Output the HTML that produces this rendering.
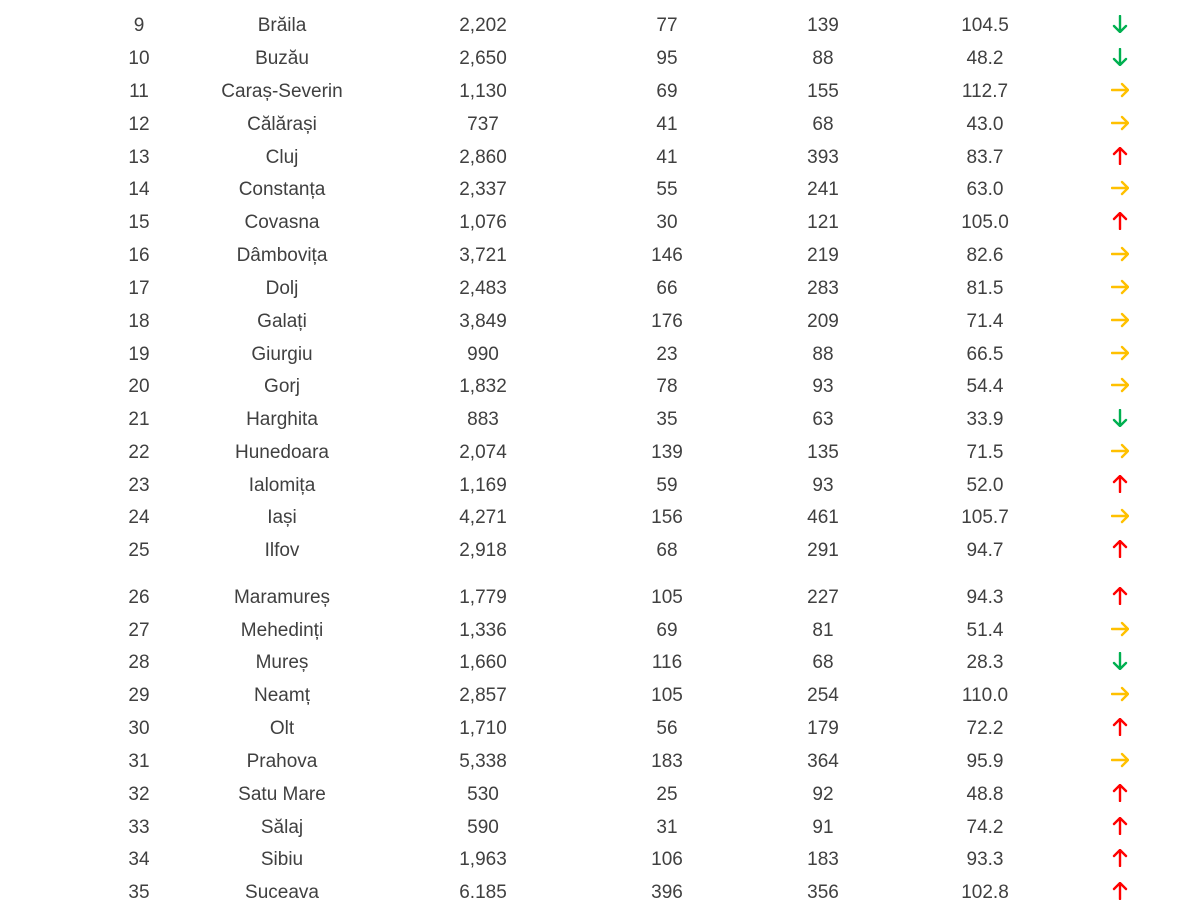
<!DOCTYPE html>
<html><head><meta charset="utf-8"><style>
body{margin:0;width:1200px;height:900px;background:#fff;overflow:hidden;position:relative;font-family:"Liberation Sans",sans-serif;color:#404040;font-size:19px}
.r{position:absolute;left:0;width:1200px;height:24px;line-height:24px}
.r span{position:absolute;width:200px;text-align:center;top:2px}
.r span:nth-child(1){left:39px}.r span:nth-child(2){left:182px}.r span:nth-child(3){left:383px}
.r span:nth-child(4){left:567px}.r span:nth-child(5){left:723px}.r span:nth-child(6){left:885px}
.r svg{position:absolute;left:1111px;top:3px}
</style></head><body>
<svg width="0" height="0" style="position:absolute"><defs>
<g id="d" fill="none" stroke="#00b050" stroke-width="2.4" stroke-linecap="round" stroke-linejoin="round"><path d="M9 1V17M3 11L9 17L15 11"/></g>
<g id="u" fill="none" stroke="#ff0000" stroke-width="2.4" stroke-linecap="round" stroke-linejoin="round"><path d="M9 17V1M3 7L9 1L15 7"/></g>
<g id="y" fill="none" stroke="#ffc000" stroke-width="2.4" stroke-linecap="round" stroke-linejoin="round"><path d="M1 9H17M11 3L17 9L11 15"/></g>
</defs></svg>
<div class="r" style="top:12px"><span>9</span><span>Brăila</span><span>2,202</span><span>77</span><span>139</span><span>104.5</span><svg width="18" height="18"><use href="#d"/></svg></div>
<div class="r" style="top:45px"><span>10</span><span>Buzău</span><span>2,650</span><span>95</span><span>88</span><span>48.2</span><svg width="18" height="18"><use href="#d"/></svg></div>
<div class="r" style="top:78px"><span>11</span><span>Caraș-Severin</span><span>1,130</span><span>69</span><span>155</span><span>112.7</span><svg width="18" height="18"><use href="#y"/></svg></div>
<div class="r" style="top:111px"><span>12</span><span>Călărași</span><span>737</span><span>41</span><span>68</span><span>43.0</span><svg width="18" height="18"><use href="#y"/></svg></div>
<div class="r" style="top:144px"><span>13</span><span>Cluj</span><span>2,860</span><span>41</span><span>393</span><span>83.7</span><svg width="18" height="18"><use href="#u"/></svg></div>
<div class="r" style="top:176px"><span>14</span><span>Constanța</span><span>2,337</span><span>55</span><span>241</span><span>63.0</span><svg width="18" height="18"><use href="#y"/></svg></div>
<div class="r" style="top:209px"><span>15</span><span>Covasna</span><span>1,076</span><span>30</span><span>121</span><span>105.0</span><svg width="18" height="18"><use href="#u"/></svg></div>
<div class="r" style="top:242px"><span>16</span><span>Dâmbovița</span><span>3,721</span><span>146</span><span>219</span><span>82.6</span><svg width="18" height="18"><use href="#y"/></svg></div>
<div class="r" style="top:275px"><span>17</span><span>Dolj</span><span>2,483</span><span>66</span><span>283</span><span>81.5</span><svg width="18" height="18"><use href="#y"/></svg></div>
<div class="r" style="top:308px"><span>18</span><span>Galați</span><span>3,849</span><span>176</span><span>209</span><span>71.4</span><svg width="18" height="18"><use href="#y"/></svg></div>
<div class="r" style="top:341px"><span>19</span><span>Giurgiu</span><span>990</span><span>23</span><span>88</span><span>66.5</span><svg width="18" height="18"><use href="#y"/></svg></div>
<div class="r" style="top:373px"><span>20</span><span>Gorj</span><span>1,832</span><span>78</span><span>93</span><span>54.4</span><svg width="18" height="18"><use href="#y"/></svg></div>
<div class="r" style="top:406px"><span>21</span><span>Harghita</span><span>883</span><span>35</span><span>63</span><span>33.9</span><svg width="18" height="18"><use href="#d"/></svg></div>
<div class="r" style="top:439px"><span>22</span><span>Hunedoara</span><span>2,074</span><span>139</span><span>135</span><span>71.5</span><svg width="18" height="18"><use href="#y"/></svg></div>
<div class="r" style="top:472px"><span>23</span><span>Ialomița</span><span>1,169</span><span>59</span><span>93</span><span>52.0</span><svg width="18" height="18"><use href="#u"/></svg></div>
<div class="r" style="top:504px"><span>24</span><span>Iași</span><span>4,271</span><span>156</span><span>461</span><span>105.7</span><svg width="18" height="18"><use href="#y"/></svg></div>
<div class="r" style="top:537px"><span>25</span><span>Ilfov</span><span>2,918</span><span>68</span><span>291</span><span>94.7</span><svg width="18" height="18"><use href="#u"/></svg></div>
<div class="r" style="top:584px"><span>26</span><span>Maramureș</span><span>1,779</span><span>105</span><span>227</span><span>94.3</span><svg width="18" height="18"><use href="#u"/></svg></div>
<div class="r" style="top:617px"><span>27</span><span>Mehedinți</span><span>1,336</span><span>69</span><span>81</span><span>51.4</span><svg width="18" height="18"><use href="#y"/></svg></div>
<div class="r" style="top:649px"><span>28</span><span>Mureș</span><span>1,660</span><span>116</span><span>68</span><span>28.3</span><svg width="18" height="18"><use href="#d"/></svg></div>
<div class="r" style="top:682px"><span>29</span><span>Neamț</span><span>2,857</span><span>105</span><span>254</span><span>110.0</span><svg width="18" height="18"><use href="#y"/></svg></div>
<div class="r" style="top:715px"><span>30</span><span>Olt</span><span>1,710</span><span>56</span><span>179</span><span>72.2</span><svg width="18" height="18"><use href="#u"/></svg></div>
<div class="r" style="top:748px"><span>31</span><span>Prahova</span><span>5,338</span><span>183</span><span>364</span><span>95.9</span><svg width="18" height="18"><use href="#y"/></svg></div>
<div class="r" style="top:781px"><span>32</span><span>Satu Mare</span><span>530</span><span>25</span><span>92</span><span>48.8</span><svg width="18" height="18"><use href="#u"/></svg></div>
<div class="r" style="top:814px"><span>33</span><span>Sălaj</span><span>590</span><span>31</span><span>91</span><span>74.2</span><svg width="18" height="18"><use href="#u"/></svg></div>
<div class="r" style="top:846px"><span>34</span><span>Sibiu</span><span>1,963</span><span>106</span><span>183</span><span>93.3</span><svg width="18" height="18"><use href="#u"/></svg></div>
<div class="r" style="top:879px"><span>35</span><span>Suceava</span><span>6.185</span><span>396</span><span>356</span><span>102.8</span><svg width="18" height="18"><use href="#u"/></svg></div>
</body></html>
